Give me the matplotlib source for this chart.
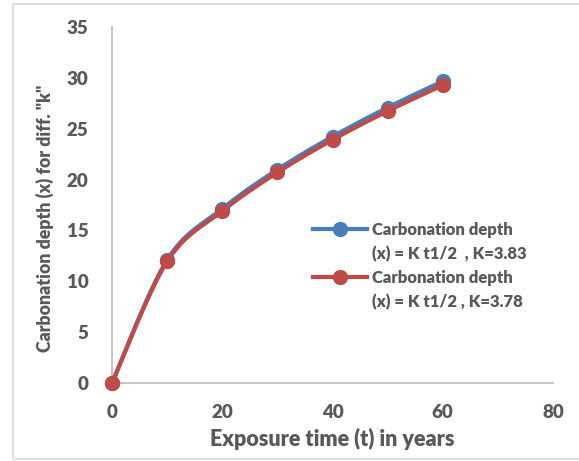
import numpy as np
import matplotlib
matplotlib.use("Agg")
import matplotlib.pyplot as plt
from matplotlib.lines import Line2D
from matplotlib.patches import Rectangle

# ---- data ----
years = [0, 10, 20, 30, 40, 50, 60]
depth_k383 = [0.0, 12.11, 17.13, 20.98, 24.22, 27.08, 29.67]
depth_k378 = [0.0, 11.95, 16.90, 20.70, 23.91, 26.73, 29.28]
label_k383 = "Carbonation depth"
label_k383_2 = "(x) = K t1/2  , K=3.83"
label_k378 = "Carbonation depth"
label_k378_2 = "(x) = K t1/2 , K=3.78"
x_ticks = [0, 20, 40, 60, 80]
y_ticks = [0, 5, 10, 15, 20, 25, 30, 35]

BLUE = "#4A7EBB"
RED = "#BE4B48"
TXT = "#595959"
AX = "#BFBFBF"

plt.rcParams['font.family'] = ['Lato', 'DejaVu Sans']
W = 'heavy'


def smooth(xs, ys, n=30):
    """Excel-style smoothed line (Catmull-Rom Bezier) through the points."""
    xs = np.asarray(xs, float); ys = np.asarray(ys, float)
    P = np.column_stack([xs, ys])
    Pp = np.vstack([P[0], P, P[-1]])
    out = []
    t = np.linspace(0, 1, n)
    for i in range(len(P) - 1):
        p0, p1, p2, p3 = Pp[i], Pp[i + 1], Pp[i + 2], Pp[i + 3]
        c1 = p1 + (p2 - p0) / 6.0
        c2 = p2 - (p3 - p1) / 6.0
        seg = ((1 - t)[:, None] ** 3 * p1 + 3 * ((1 - t) ** 2 * t)[:, None] * c1
               + 3 * ((1 - t) * t ** 2)[:, None] * c2 + (t ** 3)[:, None] * p2)
        out.append(seg if i == 0 else seg[1:])
    S = np.vstack(out)
    return S[:, 0], S[:, 1]


fig = plt.figure(figsize=(5.79, 4.61), dpi=100)
fig.patches.append(Rectangle((13 / 579, 2 / 461), 1.0, 455 / 461, transform=fig.transFigure,
                             fill=False, edgecolor="#D9D9D9", linewidth=1.2, zorder=0))
ax = fig.add_axes([112 / 579, 1 - 383 / 461, (553 - 112) / 579, (383 - 27) / 461])

for ys, col in [(depth_k383, BLUE), (depth_k378, RED)]:
    sx, sy = smooth(years, ys)
    ax.plot(sx, sy, color=col, linewidth=3.0, solid_capstyle='round', zorder=3, clip_on=False)
    ax.plot(years, ys, linestyle='none', marker='o', markersize=10, color=col, zorder=4, clip_on=False)

ax.set_xlim(0, 80)
ax.set_ylim(0, 35)
ax.set_xticks(x_ticks)
ax.set_yticks(y_ticks)
ax.tick_params(length=0, labelsize=13.5, labelcolor=TXT)
ax.tick_params(axis='x', pad=15)
ax.tick_params(axis='y', pad=17)
for lab in ax.get_xticklabels() + ax.get_yticklabels():
    lab.set_fontweight(W)
for s in ['top', 'right']:
    ax.spines[s].set_visible(False)
for s in ['left', 'bottom']:
    ax.spines[s].set_color(AX)
    ax.spines[s].set_linewidth(1.3)

ax.set_xlabel("Exposure time (t) in years", fontsize=15.5, fontweight=W, color=TXT, labelpad=5)
ax.set_ylabel('Carbonation depth (x) for diff. "k"', fontsize=12.8, fontweight=W, color=TXT)
ax.yaxis.set_label_coords(-0.132, 0.462)

blank = Line2D([], [], linestyle='none', marker='none')
h1 = Line2D([], [], color=BLUE, linewidth=3.0, marker='o', markersize=10)
h2 = Line2D([], [], color=RED, linewidth=3.0, marker='o', markersize=10)
leg = ax.legend([h1, blank, h2, blank], [label_k383, label_k383_2, label_k378, label_k378_2],
                loc='upper left', bbox_to_anchor=(0.456, 0.452), frameon=False,
                fontsize=12, handlelength=3.25, handletextpad=0.3, labelspacing=0.47,
                borderaxespad=0, borderpad=0)
for t in leg.get_texts():
    t.set_color(TXT)
    t.set_fontweight(W)

fig.savefig("out.png", dpi=100)
